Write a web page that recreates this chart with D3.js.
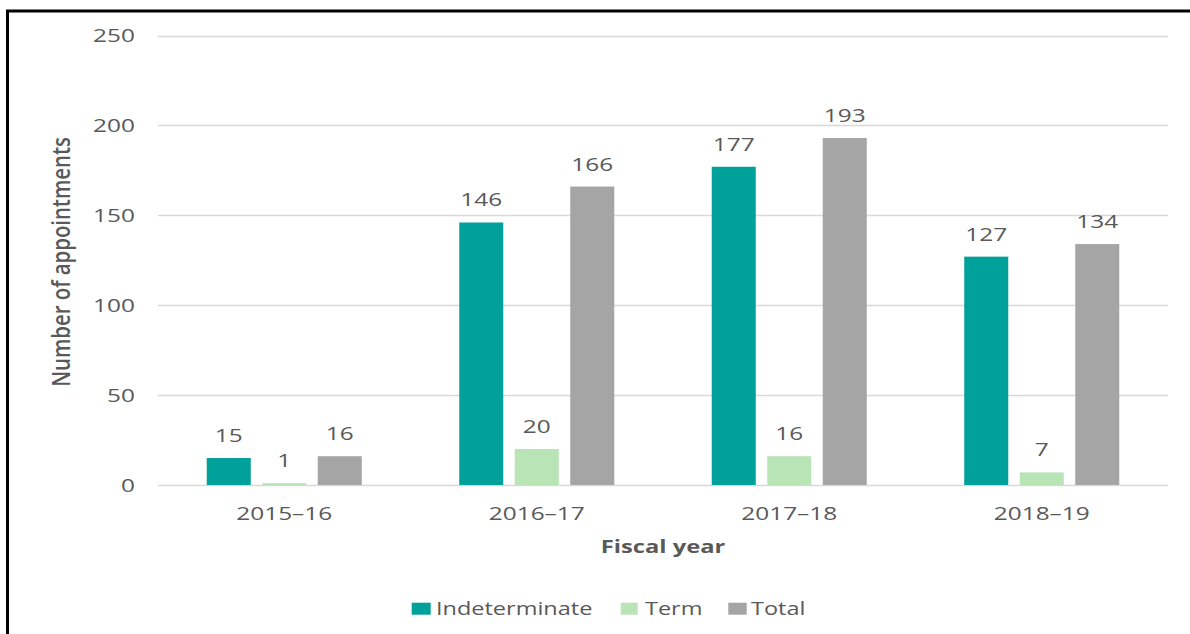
<!DOCTYPE html>
<html>
<head>
<meta charset="utf-8">
<script src="https://cdn.jsdelivr.net/npm/d3@7"></script>
<style>
  html, body { margin: 0; padding: 0; background: #fff; }
  svg { display: block; }
  text { font-family: "Open Sans", "Noto Sans", sans-serif; fill: #595959; }
</style>
</head>
<body>
<svg id="chart" width="1190" height="634"></svg>
<script>
// Appointments by fiscal year
const years = ["2015–16", "2016–17", "2017–18", "2018–19"];
const seriesNames = ["Indeterminate", "Term", "Total"];
const indeterminate = [15, 146, 177, 127];
const term = [1, 20, 16, 7];
const total = [16, 166, 193, 134];
const yTicks = [0, 50, 100, 150, 200, 250];
const colors = ["#00a19a", "#b8e4b6", "#a5a5a5"];

const seriesValues = [indeterminate, term, total];
const rows = years.map((yr, i) => ({
  year: yr,
  values: seriesNames.map((s, k) => ({ key: s, value: seriesValues[k][i] }))
}));

const SX = 1.32; // horizontal widening of the lettering
const svg = d3.select("#chart");

// outer frame (top and left rules)
svg.append("path")
  .attr("d", "M7.5,634 L7.5,11 L1190,11")
  .attr("fill", "none").attr("stroke", "#000").attr("stroke-width", 3);

const y = d3.scaleLinear().domain([0, 250]).range([485, 35.5]);
const x0 = d3.scaleBand().domain(years).range([158, 1168]);
const x1 = d3.scaleBand().domain(seriesNames).range([0, x0.bandwidth()])
  .paddingInner(0.207).paddingOuter(0.878);
const color = d3.scaleOrdinal().domain(seriesNames).range(colors);

function wideText(sel, x, y, anchor) {
  return sel.append("text")
    .attr("transform", `translate(${x},${y}) scale(${SX},1)`)
    .attr("text-anchor", anchor);
}

// gridlines
svg.append("g").selectAll("line").data(yTicks).join("line")
  .attr("x1", 158).attr("x2", 1168)
  .attr("y1", d => Math.round(y(d)) + 0.5).attr("y2", d => Math.round(y(d)) + 0.5)
  .attr("stroke", "#d9d9d9").attr("stroke-width", 1.3);

// y tick labels
const yLab = svg.append("g");
yTicks.forEach(t => {
  wideText(yLab, 135, y(t) + 6.5, "end")
    .style("font-size", "18.5px").text(t);
});

// bars
const groups = svg.append("g").selectAll("g").data(rows).join("g")
  .attr("transform", d => `translate(${x0(d.year)},0)`);

groups.selectAll("rect").data(d => d.values).join("rect")
  .attr("x", d => x1(d.key))
  .attr("width", x1.bandwidth())
  .attr("y", d => y(d.value))
  .attr("height", d => y(0) - y(d.value))
  .attr("fill", d => color(d.key));

// value labels
groups.each(function (d) {
  const g = d3.select(this);
  d.values.forEach(v => {
    wideText(g, x1(v.key) + x1.bandwidth() / 2, y(v.value) - 16, "middle")
      .style("font-size", "18.5px").text(v.value);
  });
});

// x tick labels
years.forEach(yr => {
  wideText(svg, x0(yr) + x0.bandwidth() / 2, 519.5, "middle")
    .style("font-size", "18.5px").text(yr);
});

// axis titles
wideText(svg, 663, 553, "middle")
  .style("font-size", "18px").style("font-weight", "700").text("Fiscal year");

svg.append("text")
  .attr("transform", "translate(70,262) rotate(-90) scale(1.13,1.4)")
  .attr("text-anchor", "middle")
  .style("font-size", "18px")
  .style("font-weight", "600")
  .text("Number of appointments");

// legend
const legendItems = [
  { key: "Indeterminate", sx: 411.7, sw: 19, tx: 436 },
  { key: "Term", sx: 620.7, sw: 17, tx: 645 },
  { key: "Total", sx: 728.3, sw: 18.4, tx: 751 }
];
const leg = svg.append("g");
legendItems.forEach(it => {
  leg.append("rect").attr("x", it.sx).attr("y", 602.7).attr("width", it.sw).attr("height", 12)
    .attr("fill", color(it.key));
  wideText(leg, it.tx, 615, "start").style("font-size", "17.8px").text(it.key);
});
</script>
</body>
</html>
